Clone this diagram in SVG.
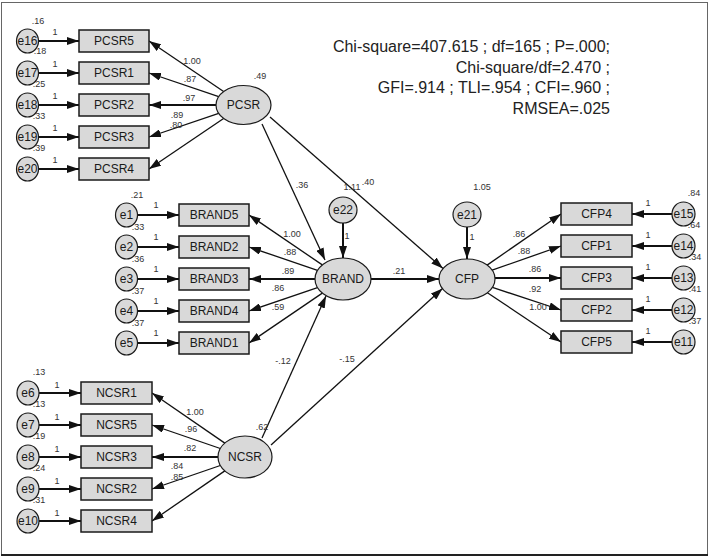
<svg xmlns="http://www.w3.org/2000/svg" width="710" height="559" viewBox="0 0 710 559">
<defs>
<marker id="ah" markerUnits="userSpaceOnUse" markerWidth="12" markerHeight="8" refX="12" refY="4" orient="auto">
<path d="M0,0 L12,4 L0,8 z" fill="#111"/>
</marker>
</defs>
<style>
.box{fill:#d9d9d9;stroke:#1a1a1a;stroke-width:1.5}
.lat{fill:#d9d9d9;stroke:#1a1a1a;stroke-width:1.2}
.err{fill:#d9d9d9;stroke:#1a1a1a;stroke-width:1.2}
.nt{font-family:"Liberation Sans",Arial,sans-serif;font-size:12px;fill:#1a1a1a;text-anchor:middle}
.lb{font-family:"Liberation Sans",Arial,sans-serif;font-size:9px;fill:#333;text-anchor:middle}
.fit{font-family:"Liberation Sans",Arial,sans-serif;font-size:16px;fill:#222;text-anchor:end}
.c{stroke:#111;stroke-width:1.3;fill:none;marker-end:url(#ah)}
.ch{stroke:#111;stroke-width:2;fill:none;marker-end:url(#ah)}
.ce{stroke:#111;stroke-width:2;fill:none;marker-end:url(#ah)}
</style>
<rect x="0" y="0" width="710" height="559" fill="#fff"/>
<rect x="1.5" y="2.5" width="706" height="552" fill="none" stroke="#666" stroke-width="1"/>
<line x1="1" y1="555" x2="708" y2="555" stroke="#222" stroke-width="2"/>

<g id="fit">
<text class="fit" x="610" y="52">Chi-square=407.615 ; df=165 ; P=.000;</text>
<text class="fit" x="610" y="73">Chi-square/df=2.470 ;</text>
<text class="fit" x="610" y="93">GFI=.914 ; TLI=.954 ; CFI=.960 ;</text>
<text class="fit" x="610" y="114">RMSEA=.025</text>
</g>

<g id="connectors">
<line class="c" x1="223.6" y1="91.5" x2="149" y2="41"/>
<line class="c" x1="218.7" y1="96.6" x2="149" y2="73"/>
<line class="ch" x1="216" y1="105" x2="149" y2="105"/>
<line class="c" x1="218.7" y1="113.4" x2="149" y2="137"/>
<line class="c" x1="223.6" y1="118.5" x2="149" y2="169"/>
<line class="ce" x1="38.5" y1="41" x2="79" y2="41"/>
<line class="ce" x1="38.5" y1="73" x2="79" y2="73"/>
<line class="ce" x1="38.5" y1="105" x2="79" y2="105"/>
<line class="ce" x1="38.5" y1="137" x2="79" y2="137"/>
<line class="ce" x1="38.5" y1="169" x2="79" y2="169"/>
<line class="c" x1="322.3" y1="264.9" x2="249" y2="215"/>
<line class="c" x1="317.5" y1="270.3" x2="249" y2="247"/>
<line class="ch" x1="315" y1="279" x2="249" y2="279"/>
<line class="c" x1="317.5" y1="287.7" x2="249" y2="311"/>
<line class="c" x1="322.3" y1="293.1" x2="249" y2="343"/>
<line class="ce" x1="137.5" y1="215" x2="179" y2="215"/>
<line class="ce" x1="137.5" y1="247" x2="179" y2="247"/>
<line class="ce" x1="137.5" y1="279" x2="179" y2="279"/>
<line class="ce" x1="137.5" y1="311" x2="179" y2="311"/>
<line class="ce" x1="137.5" y1="343" x2="179" y2="343"/>
<line class="c" x1="487.1" y1="265.1" x2="561" y2="214"/>
<line class="c" x1="492.1" y1="270.2" x2="561" y2="246"/>
<line class="ch" x1="495" y1="278" x2="561" y2="278"/>
<line class="c" x1="492.4" y1="287.4" x2="561" y2="310"/>
<line class="c" x1="487.4" y1="292.7" x2="561" y2="342"/>
<line class="ce" x1="672" y1="214" x2="632" y2="214"/>
<line class="ce" x1="672" y1="246" x2="632" y2="246"/>
<line class="ce" x1="672" y1="278" x2="632" y2="278"/>
<line class="ce" x1="672" y1="310" x2="632" y2="310"/>
<line class="ce" x1="672" y1="342" x2="632" y2="342"/>
<line class="c" x1="224.8" y1="443.1" x2="152" y2="393"/>
<line class="c" x1="220.3" y1="448.5" x2="152" y2="425"/>
<line class="ch" x1="218" y1="457" x2="152" y2="457"/>
<line class="c" x1="220.3" y1="465.5" x2="152" y2="489"/>
<line class="c" x1="224.8" y1="470.9" x2="152" y2="521"/>
<line class="ce" x1="39" y1="393" x2="81" y2="393"/>
<line class="ce" x1="39" y1="425" x2="81" y2="425"/>
<line class="ce" x1="39" y1="457" x2="81" y2="457"/>
<line class="ce" x1="39" y1="489" x2="81" y2="489"/>
<line class="ce" x1="39" y1="521" x2="81" y2="521"/>
<line class="c" x1="262" y1="124" x2="325" y2="260"/>
<line class="c" x1="270" y1="117" x2="443" y2="268.5"/>
<line class="ch" x1="371" y1="279" x2="439" y2="279"/>
<line class="c" x1="262" y1="438" x2="326" y2="296"/>
<line class="c" x1="271" y1="445" x2="442.5" y2="288.5"/>
<line class="ce" x1="343" y1="223" x2="343" y2="258"/>
<line class="ce" x1="467" y1="227" x2="467" y2="259"/>
</g>

<g id="labels">
<text class="lb" x="192" y="64">1.00</text>
<text class="lb" x="190" y="82">.87</text>
<text class="lb" x="189" y="101">.97</text>
<text class="lb" x="177" y="118">.89</text>
<text class="lb" x="176" y="128">.80</text>
<text class="lb" x="292" y="237">1.00</text>
<text class="lb" x="290" y="255">.88</text>
<text class="lb" x="288" y="274">.89</text>
<text class="lb" x="278" y="291">.86</text>
<text class="lb" x="278" y="310">.59</text>
<text class="lb" x="519" y="237">.86</text>
<text class="lb" x="524" y="254">.88</text>
<text class="lb" x="535" y="272">.86</text>
<text class="lb" x="535" y="292">.92</text>
<text class="lb" x="538" y="310">1.00</text>
<text class="lb" x="195" y="415">1.00</text>
<text class="lb" x="191" y="432">.96</text>
<text class="lb" x="190" y="451">.82</text>
<text class="lb" x="177" y="469">.84</text>
<text class="lb" x="177" y="480">.85</text>
<text class="lb" x="302" y="188">.36</text>
<text class="lb" x="352" y="190">1.11</text>
<text class="lb" x="368" y="185">.40</text>
<text class="lb" x="399" y="274">.21</text>
<text class="lb" x="283" y="364">-.12</text>
<text class="lb" x="347" y="362">-.15</text>
<text class="lb" x="347" y="239">1</text>
<text class="lb" x="472" y="240">1</text>
<text class="lb" x="55" y="35">1</text>
<text class="lb" x="55" y="67">1</text>
<text class="lb" x="55" y="99">1</text>
<text class="lb" x="55" y="131">1</text>
<text class="lb" x="55" y="163">1</text>
<text class="lb" x="156" y="208">1</text>
<text class="lb" x="156" y="240">1</text>
<text class="lb" x="156" y="272">1</text>
<text class="lb" x="156" y="304">1</text>
<text class="lb" x="156" y="336">1</text>
<text class="lb" x="648" y="206">1</text>
<text class="lb" x="648" y="238">1</text>
<text class="lb" x="648" y="270">1</text>
<text class="lb" x="648" y="302">1</text>
<text class="lb" x="648" y="334">1</text>
<text class="lb" x="57" y="388">1</text>
<text class="lb" x="57" y="420">1</text>
<text class="lb" x="57" y="452">1</text>
<text class="lb" x="57" y="484">1</text>
<text class="lb" x="57" y="516">1</text>
</g>

<g id="PCSR"><ellipse class="lat" cx="243.5" cy="105" rx="27.5" ry="19.5"/><text class="nt" x="243.5" y="109.3">PCSR</text><text class="lb" x="260" y="79">.49</text></g>
<g id="BRAND"><ellipse class="lat" cx="343" cy="279" rx="28" ry="21"/><text class="nt" x="343" y="283.3">BRAND</text></g>
<g id="CFP"><ellipse class="lat" cx="467" cy="279" rx="28" ry="20"/><text class="nt" x="467" y="283.3">CFP</text></g>
<g id="NCSR"><ellipse class="lat" cx="245" cy="457" rx="27" ry="21"/><text class="nt" x="245" y="461.3">NCSR</text><text class="lb" x="262" y="430">.62</text></g>
<g id="e22"><ellipse class="err" cx="343" cy="210" rx="14" ry="13"/><text class="nt" x="343" y="214.3">e22</text></g>
<g id="e21"><ellipse class="err" cx="467" cy="214.5" rx="14" ry="12.5"/><text class="nt" x="467" y="218.8">e21</text><text class="lb" x="482" y="190">1.05</text></g>

<g id="PCSR5"><rect class="box" x="79" y="30" width="70" height="22"/><text class="nt" x="114" y="45.3">PCSR5</text></g>
<g id="PCSR1"><rect class="box" x="79" y="62" width="70" height="22"/><text class="nt" x="114" y="77.3">PCSR1</text></g>
<g id="PCSR2"><rect class="box" x="79" y="94" width="70" height="22"/><text class="nt" x="114" y="109.3">PCSR2</text></g>
<g id="PCSR3"><rect class="box" x="79" y="126" width="70" height="22"/><text class="nt" x="114" y="141.3">PCSR3</text></g>
<g id="PCSR4"><rect class="box" x="79" y="158" width="70" height="22"/><text class="nt" x="114" y="173.3">PCSR4</text></g>
<g id="e16"><ellipse class="err" cx="27.5" cy="41" rx="11" ry="12"/><text class="nt" x="27.5" y="45.3">e16</text><text class="lb" x="38" y="24">.16</text></g>
<g id="e17"><ellipse class="err" cx="27.5" cy="73" rx="11" ry="12"/><text class="nt" x="27.5" y="77.3">e17</text><text class="lb" x="40" y="54">.18</text></g>
<g id="e18"><ellipse class="err" cx="27.5" cy="105" rx="11" ry="12"/><text class="nt" x="27.5" y="109.3">e18</text><text class="lb" x="39" y="87">.25</text></g>
<g id="e19"><ellipse class="err" cx="27.5" cy="137" rx="11" ry="12"/><text class="nt" x="27.5" y="141.3">e19</text><text class="lb" x="39" y="119">.33</text></g>
<g id="e20"><ellipse class="err" cx="27.5" cy="169" rx="11" ry="12"/><text class="nt" x="27.5" y="173.3">e20</text><text class="lb" x="39" y="151">.39</text></g>

<g id="BRAND5"><rect class="box" x="179" y="204" width="70" height="22"/><text class="nt" x="214" y="219.3">BRAND5</text></g>
<g id="BRAND2"><rect class="box" x="179" y="236" width="70" height="22"/><text class="nt" x="214" y="251.3">BRAND2</text></g>
<g id="BRAND3"><rect class="box" x="179" y="268" width="70" height="22"/><text class="nt" x="214" y="283.3">BRAND3</text></g>
<g id="BRAND4"><rect class="box" x="179" y="300" width="70" height="22"/><text class="nt" x="214" y="315.3">BRAND4</text></g>
<g id="BRAND1"><rect class="box" x="179" y="332" width="70" height="22"/><text class="nt" x="214" y="347.3">BRAND1</text></g>
<g id="e1"><ellipse class="err" cx="126.5" cy="215" rx="11" ry="12"/><text class="nt" x="126.5" y="219.3">e1</text><text class="lb" x="137" y="198">.21</text></g>
<g id="e2"><ellipse class="err" cx="126.5" cy="247" rx="11" ry="12"/><text class="nt" x="126.5" y="251.3">e2</text><text class="lb" x="138" y="230">.33</text></g>
<g id="e3"><ellipse class="err" cx="126.5" cy="279" rx="11" ry="12"/><text class="nt" x="126.5" y="283.3">e3</text><text class="lb" x="138" y="262">.36</text></g>
<g id="e4"><ellipse class="err" cx="126.5" cy="311" rx="11" ry="12"/><text class="nt" x="126.5" y="315.3">e4</text><text class="lb" x="138" y="294">.37</text></g>
<g id="e5"><ellipse class="err" cx="126.5" cy="343" rx="11" ry="12"/><text class="nt" x="126.5" y="347.3">e5</text><text class="lb" x="138" y="326">.37</text></g>

<g id="CFP4"><rect class="box" x="561" y="203" width="71" height="22"/><text class="nt" x="596.5" y="218.3">CFP4</text></g>
<g id="CFP1"><rect class="box" x="561" y="235" width="71" height="22"/><text class="nt" x="596.5" y="250.3">CFP1</text></g>
<g id="CFP3"><rect class="box" x="561" y="267" width="71" height="22"/><text class="nt" x="596.5" y="282.3">CFP3</text></g>
<g id="CFP2"><rect class="box" x="561" y="299" width="71" height="22"/><text class="nt" x="596.5" y="314.3">CFP2</text></g>
<g id="CFP5"><rect class="box" x="561" y="331" width="71" height="22"/><text class="nt" x="596.5" y="346.3">CFP5</text></g>
<g id="e15"><ellipse class="err" cx="683.5" cy="214" rx="11.5" ry="12"/><text class="nt" x="683.5" y="218.3">e15</text><text class="lb" x="694" y="196">.84</text></g>
<g id="e14"><ellipse class="err" cx="683.5" cy="246" rx="11.5" ry="12"/><text class="nt" x="683.5" y="250.3">e14</text><text class="lb" x="694" y="228">.64</text></g>
<g id="e13"><ellipse class="err" cx="683.5" cy="278" rx="11.5" ry="12"/><text class="nt" x="683.5" y="282.3">e13</text><text class="lb" x="695" y="260">.34</text></g>
<g id="e12"><ellipse class="err" cx="683.5" cy="310" rx="11.5" ry="12"/><text class="nt" x="683.5" y="314.3">e12</text><text class="lb" x="695" y="292">.41</text></g>
<g id="e11"><ellipse class="err" cx="683.5" cy="342" rx="11.5" ry="12"/><text class="nt" x="683.5" y="346.3">e11</text><text class="lb" x="695" y="324">.37</text></g>

<g id="NCSR1"><rect class="box" x="81" y="382" width="71" height="22"/><text class="nt" x="116.5" y="397.3">NCSR1</text></g>
<g id="NCSR5"><rect class="box" x="81" y="414" width="71" height="22"/><text class="nt" x="116.5" y="429.3">NCSR5</text></g>
<g id="NCSR3"><rect class="box" x="81" y="446" width="71" height="22"/><text class="nt" x="116.5" y="461.3">NCSR3</text></g>
<g id="NCSR2"><rect class="box" x="81" y="478" width="71" height="22"/><text class="nt" x="116.5" y="493.3">NCSR2</text></g>
<g id="NCSR4"><rect class="box" x="81" y="510" width="71" height="22"/><text class="nt" x="116.5" y="525.3">NCSR4</text></g>
<g id="e6"><ellipse class="err" cx="28" cy="393" rx="11" ry="12"/><text class="nt" x="28" y="397.3">e6</text><text class="lb" x="39" y="375">.13</text></g>
<g id="e7"><ellipse class="err" cx="28" cy="425" rx="11" ry="12"/><text class="nt" x="28" y="429.3">e7</text><text class="lb" x="39" y="407">.13</text></g>
<g id="e8"><ellipse class="err" cx="28" cy="457" rx="11" ry="12"/><text class="nt" x="28" y="461.3">e8</text><text class="lb" x="39" y="439">.19</text></g>
<g id="e9"><ellipse class="err" cx="28" cy="489" rx="11" ry="12"/><text class="nt" x="28" y="493.3">e9</text><text class="lb" x="39" y="471">.24</text></g>
<g id="e10"><ellipse class="err" cx="28" cy="521" rx="11" ry="12"/><text class="nt" x="28" y="525.3">e10</text><text class="lb" x="39" y="503">.31</text></g>
</svg>
